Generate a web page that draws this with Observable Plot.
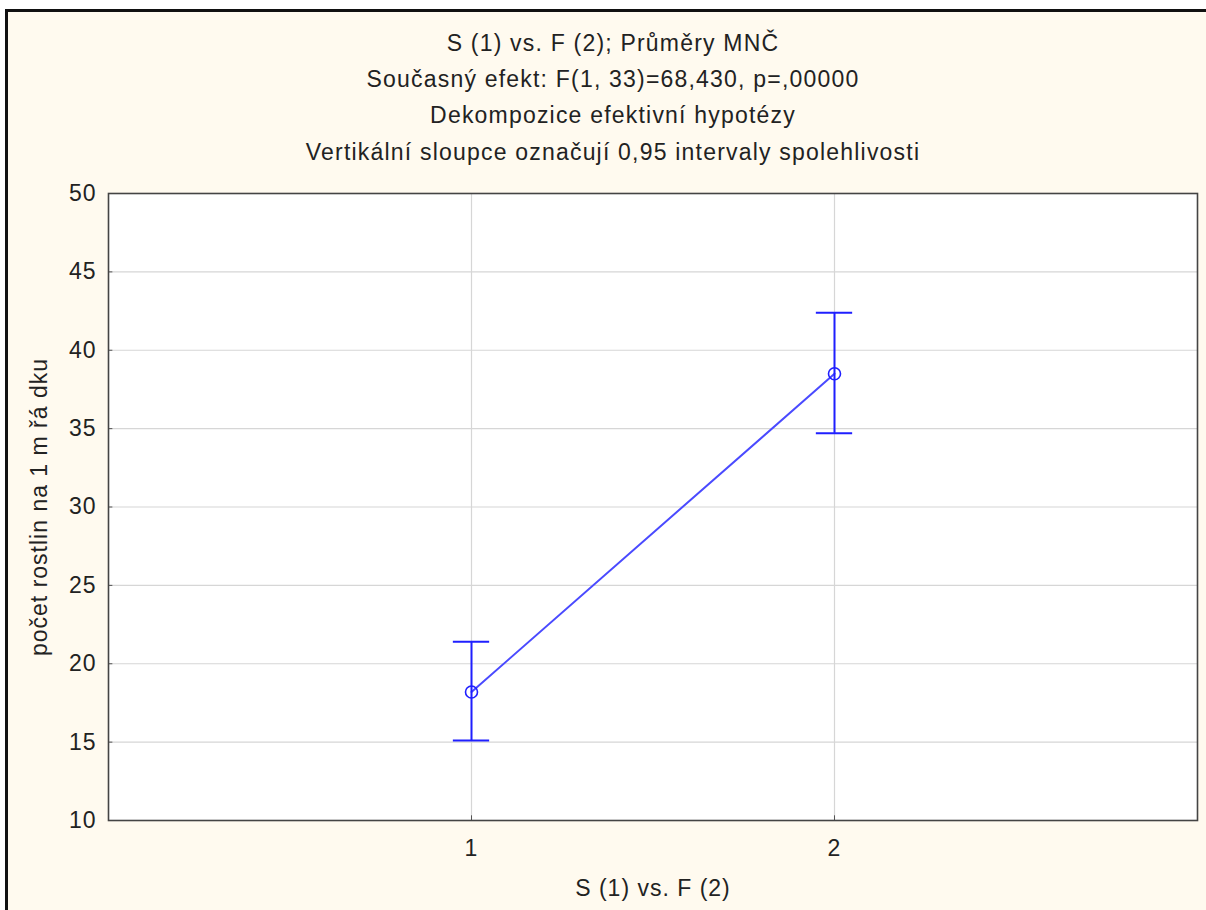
<!DOCTYPE html>
<html>
<head>
<meta charset="utf-8">
<script src="https://cdn.jsdelivr.net/npm/d3@7"></script>
<script src="https://cdn.jsdelivr.net/npm/@observablehq/plot@0.6"></script>
<style>
  html, body { margin: 0; padding: 0; background: #ffffff; width: 1206px; height: 910px; overflow: hidden; }
  #panel { position: absolute; left: 5px; top: 9px; width: 1201px; height: 901px; background: #fffaef;
           border-top: 3px solid #111; border-left: 3px solid #111; box-sizing: border-box; }
  .t { position: absolute; left: 10px; width: 1206px; text-align: center; font-family: "Liberation Sans", Arial, sans-serif;
       font-size: 23px; line-height: 26px; letter-spacing: 1.2px; color: #222; }
  #chart { position: absolute; left: 0; top: 170px; }
  #chart svg text { letter-spacing: 1px; }
</style>
</head>
<body>
<div id="panel"></div>
<div class="t" style="top:30px">S (1) vs. F (2); Průměry MNČ</div>
<div class="t" style="top:66px">Současný efekt: F(1, 33)=68,430, p=,00000</div>
<div class="t" style="top:102px">Dekompozice efektivní hypotézy</div>
<div class="t" style="top:139px">Vertikální sloupce označují 0,95 intervaly spolehlivosti</div>
<div id="chart"></div>
<script>
const groups = [1, 2];
const means = [18.2, 38.5];
const lower = [15.1, 34.7];
const upper = [21.4, 42.4];
const yTicks = [10, 15, 20, 25, 30, 35, 40, 45, 50];
const xTicks = [1, 2];

const data = groups.map((g, i) => ({x: g, mean: means[i], lo: lower[i], hi: upper[i]}));
const capHalf = 0.05;
const blue = "#1f1fff";

const chart = Plot.plot({
  width: 1206,
  height: 740,
  marginLeft: 108,
  marginRight: 9,
  marginTop: 23,
  marginBottom: 90,
  style: {fontFamily: "'Liberation Sans', Arial, sans-serif", fontSize: "23px", color: "#222", background: "transparent"},
  x: {domain: [0, 3], ticks: xTicks, label: null},
  y: {domain: [10, 50], ticks: yTicks, label: null},
  marks: [
    Plot.frame({fill: "white"}),
    Plot.gridY(yTicks, {stroke: "#d6d6d6", strokeOpacity: 1, strokeWidth: 1.2}),
    Plot.gridX(xTicks, {stroke: "#d6d6d6", strokeOpacity: 1, strokeWidth: 1.2}),
    Plot.axisY(yTicks, {tickSize: 0, tickPadding: 12, fontSize: 23, fill: "#222", label: null}),
    Plot.axisX(xTicks, {tickSize: 0, tickPadding: 19, fontSize: 23, fill: "#222", label: null, tickFormat: d3.format("d")}),
    Plot.ruleY(yTicks, {y: d => d, x1: 0, x2: 0.012, stroke: "#555"}),
    Plot.ruleX(xTicks, {x: d => d, y1: 10, y2: 10.3, stroke: "#555"}),
    Plot.line(data, {x: "x", y: "mean", stroke: "#4a4aff", strokeWidth: 2}),
    Plot.ruleX(data, {x: "x", y1: "lo", y2: "hi", stroke: blue, strokeWidth: 2}),
    Plot.ruleY(data, {y: "hi", x1: d => d.x - capHalf, x2: d => d.x + capHalf, stroke: blue, strokeWidth: 2}),
    Plot.ruleY(data, {y: "lo", x1: d => d.x - capHalf, x2: d => d.x + capHalf, stroke: blue, strokeWidth: 2}),
    Plot.dot(data, {x: "x", y: "mean", r: 6, stroke: blue, fill: "none", strokeWidth: 1.6}),
    Plot.frame({stroke: "#444", strokeWidth: 1.6}),
    Plot.text(["S (1) vs. F (2)"], {frameAnchor: "bottom", dy: 75, fontSize: 23, fill: "#222"}),
    Plot.text(["počet rostlin na 1 m řá dku"], {frameAnchor: "left", textAnchor: "middle", dx: -69, rotate: -90, fontSize: 23, fill: "#222"})
  ]
});
document.getElementById("chart").appendChild(chart);
</script>
</body>
</html>
